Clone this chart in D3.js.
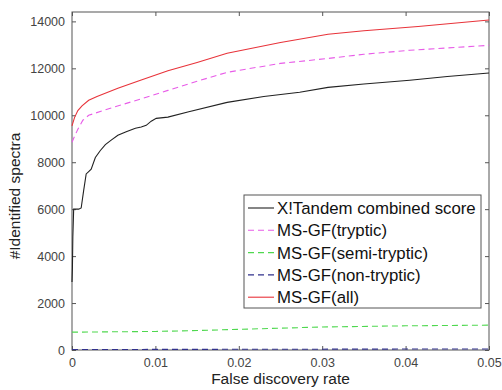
<!DOCTYPE html>
<html>
<head>
<meta charset="utf-8">
<script src="https://cdn.jsdelivr.net/npm/d3@7"></script>
<style>
  html, body { margin: 0; padding: 0; background: #fff; }
  svg { display: block; }
  text { font-family: "Liberation Sans", Arial, Helvetica, sans-serif; }
</style>
</head>
<body>
<svg id="chart" width="502" height="390"></svg>
<script>
// ---- data ----
const xTicks = [0, 0.01, 0.02, 0.03, 0.04, 0.05];
const xTickLabels = ["0", "0.01", "0.02", "0.03", "0.04", "0.05"];
const yTicks = [0, 2000, 4000, 6000, 8000, 10000, 12000, 14000];
const yTickLabels = ["0", "2000", "4000", "6000", "8000", "10000", "12000", "14000"];

const tandemFdr = [0, 0.00005, 0.0001, 0.0002, 0.0004, 0.0008, 0.0011, 0.0014, 0.0017, 0.0020, 0.0023, 0.0028, 0.0034, 0.0040, 0.0047, 0.0055, 0.0065, 0.0076, 0.0083, 0.0089, 0.0095, 0.0101, 0.0115, 0.014, 0.0186, 0.0230, 0.0273, 0.0307, 0.035, 0.0405, 0.045, 0.05];
const tandemVals = [2900, 3500, 4800, 6000, 6000, 6000, 6050, 6800, 7500, 7600, 7700, 8200, 8500, 8750, 8940, 9150, 9300, 9450, 9500, 9570, 9750, 9870, 9920, 10150, 10550, 10800, 10980, 11190, 11330, 11490, 11650, 11800];

const trypticFdr = [0, 0.0003, 0.0007, 0.0013, 0.002, 0.0046, 0.0083, 0.0115, 0.015, 0.0186, 0.025, 0.0307, 0.035, 0.0405, 0.05];
const trypticVals = [8850, 9100, 9400, 9790, 10000, 10300, 10700, 11060, 11450, 11830, 12210, 12420, 12600, 12770, 12980];

const semiFdr = [0, 0.01, 0.015, 0.02, 0.03, 0.04, 0.05];
const semiVals = [760, 790, 830, 880, 980, 1030, 1060];

const nonFdr = [0, 0.01, 0.02, 0.03, 0.04, 0.05];
const nonVals = [20, 25, 30, 35, 40, 45];

const allFdr = [0, 0.0003, 0.0007, 0.0012, 0.002, 0.003, 0.0055, 0.0083, 0.0115, 0.015, 0.0186, 0.025, 0.0307, 0.035, 0.0415, 0.05];
const allVals = [9550, 9900, 10200, 10400, 10640, 10800, 11150, 11500, 11900, 12250, 12640, 13100, 13450, 13600, 13780, 14060];

const seriesNames = ["X!Tandem combined score", "MS-GF(tryptic)", "MS-GF(semi-tryptic)", "MS-GF(non-tryptic)", "MS-GF(all)"];
const seriesColors = ["#222222", "#e85ce8", "#4fd84f", "#30308c", "#e8333a"];
const seriesDash = [null, "6,4", "6,4", "6,4", null];
const seriesX = [tandemFdr, trypticFdr, semiFdr, nonFdr, allFdr];
const seriesY = [tandemVals, trypticVals, semiVals, nonVals, allVals];

// ---- layout ----
const svg = d3.select("#chart");
const L = 72, R = 489, T = 12, B = 350;
const x = d3.scaleLinear().domain([0, 0.05]).range([L, R]);
const y = d3.scaleLinear().domain([0, 14400]).range([B, T]);
const axisColor = "#555";
const tickLen = 4;

// plot box
svg.append("rect").attr("x", L).attr("y", T).attr("width", R - L).attr("height", B - T)
  .attr("fill", "#fff").attr("stroke", axisColor).attr("stroke-width", 1);

// axes with inward ticks
const xAxis = d3.axisBottom(x).tickValues(xTicks).tickFormat((d, i) => xTickLabels[i])
  .tickSizeInner(-tickLen).tickSizeOuter(0).tickPadding(8);
const gx = svg.append("g").attr("transform", `translate(0,${B})`).call(xAxis);
const yAxis = d3.axisLeft(y).tickValues(yTicks).tickFormat((d, i) => yTickLabels[i])
  .tickSizeInner(-tickLen).tickSizeOuter(0).tickPadding(7);
const gy = svg.append("g").attr("transform", `translate(${L},0)`).call(yAxis);
// mirrored ticks (top, right)
const gxt = svg.append("g").attr("transform", `translate(0,${T})`)
  .call(d3.axisTop(x).tickValues(xTicks).tickFormat("").tickSizeInner(-tickLen).tickSizeOuter(0));
const gyr = svg.append("g").attr("transform", `translate(${R},0)`)
  .call(d3.axisRight(y).tickValues(yTicks).tickFormat("").tickSizeInner(-tickLen).tickSizeOuter(0));
[gx, gy, gxt, gyr].forEach(g => {
  g.select(".domain").remove();
  g.selectAll(".tick line").attr("stroke", axisColor);
  g.selectAll(".tick text").attr("fill", "#444").attr("font-size", 12.5);
});

// series lines
const line = d3.line().x(d => x(d[0])).y(d => y(d[1]));
seriesNames.forEach((name, i) => {
  const pts = seriesX[i].map((v, j) => [v, seriesY[i][j]]);
  svg.append("path").datum(pts).attr("d", line)
    .attr("fill", "none").attr("stroke", seriesColors[i]).attr("stroke-width", 1.1)
    .attr("stroke-dasharray", seriesDash[i]);
});

// axis labels
svg.append("text").attr("x", (L + R) / 2).attr("y", 384).attr("text-anchor", "middle")
  .attr("font-size", 15.5).attr("fill", "#222").text("False discovery rate");
svg.append("text").attr("transform", `translate(20,196) rotate(-90)`).attr("text-anchor", "middle")
  .attr("font-size", 15.5).attr("fill", "#222").text("#Identified spectra");

// legend
const lg = svg.append("g");
lg.append("rect").attr("x", 244).attr("y", 195).attr("width", 237).attr("height", 113)
  .attr("fill", "#fff").attr("stroke", "#555").attr("stroke-width", 1);
seriesNames.forEach((name, i) => {
  const yy = 208 + i * 22.3;
  lg.append("line").attr("x1", 248).attr("x2", 274).attr("y1", yy).attr("y2", yy)
    .attr("stroke", seriesColors[i]).attr("stroke-width", 1.1).attr("stroke-dasharray", seriesDash[i]);
  lg.append("text").attr("x", 277).attr("y", yy).attr("dy", "0.36em")
    .attr("font-size", 16.8).attr("fill", "#111").text(name);
});
</script>
</body>
</html>
